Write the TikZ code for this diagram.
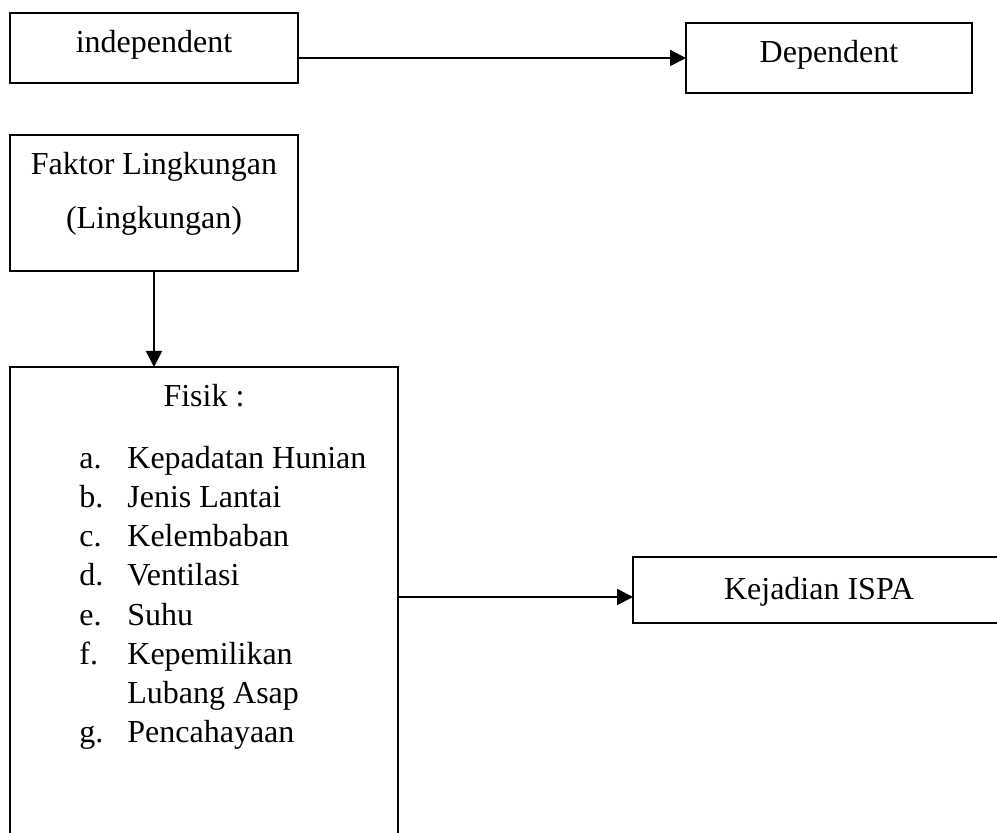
\documentclass[tikz,border=0pt]{standalone}
\usepackage{fontspec}
\setmainfont{Liberation Serif}
\usetikzlibrary{arrows.meta}
\begin{document}
\begin{tikzpicture}[x=0.5pt,y=-0.5pt,
  box/.style={draw,line width=0.85pt,inner sep=0pt,outer sep=0pt,anchor=north west},
  openbox/.style={inner sep=0pt,outer sep=0pt,anchor=north west},
  edge/.style={line width=0.85pt},
  txt/.style={anchor=base,inner sep=0pt,font=\fontsize{16}{19.5}\selectfont},
  item/.style={anchor=base west,inner sep=0pt,font=\fontsize{16}{19.5}\selectfont},
  conn/.style={line width=1pt,-{Triangle[length=8pt,width=8pt]}}]
\useasboundingbox (0,0) rectangle (997,833);
% boxes
\node[box,minimum width=144pt,minimum height=35pt] (indep) at (10,13) {};
\node[box,minimum width=143pt,minimum height=35pt] (dep) at (686,23) {};
\node[box,minimum width=144pt,minimum height=68pt] (fak) at (10,135) {};
\node[openbox,minimum width=194pt,minimum height=233pt] (fisik) at (10,367) {};
\draw[edge] (fisik.south west) -- (fisik.north west) -- (fisik.north east) -- (fisik.south east);
\node[openbox,minimum width=182pt,minimum height=33pt] (isp) at (633,557) {};
\draw[edge] (isp.north east) -- (isp.north west) -- (isp.south west) -- (isp.south east);
% texts
\node[txt] (tind) at (154,53) {independent};
\node[txt] (tdep) at (829,63) {Dependent};
\node[txt] (tfak1) at (154,175) {Faktor Lingkungan};
\node[txt] (tfak2) at (154,229) {(Lingkungan)};
\node[txt] (tfis) at (204,407) {Fisik :};
\node[txt] (tisp) at (819,600) {Kejadian ISPA};
\node[item] (la) at (79,469) {a.};
\node[item] (ia) at (127,469) {Kepadatan Hunian};
\node[item] (lb) at (79,508) {b.};
\node[item] (ib) at (127,508) {Jenis Lantai};
\node[item] (lc) at (79,547) {c.};
\node[item] (ic) at (127,547) {Kelembaban};
\node[item] (ld) at (79,586) {d.};
\node[item] (id) at (127,586) {Ventilasi};
\node[item] (le) at (79,626) {e.};
\node[item] (ie) at (127,626) {Suhu};
\node[item] (lf) at (79,665) {f.};
\node[item] (if) at (127,665) {Kepemilikan};
\node[item] (if2) at (127,704) {Lubang Asap};
\node[item] (lg) at (79,743) {g.};
\node[item] (ig) at (127,743) {Pencahayaan};
% connectors
\draw[conn] (indep.east |- dep.west) -- (dep.west);
\draw[conn] (fak.south) -- (fak.south |- fisik.north);
\coordinate (ispin) at (633,597);
\draw[conn] (fisik.east |- ispin) -- (ispin);
\end{tikzpicture}
\end{document}
